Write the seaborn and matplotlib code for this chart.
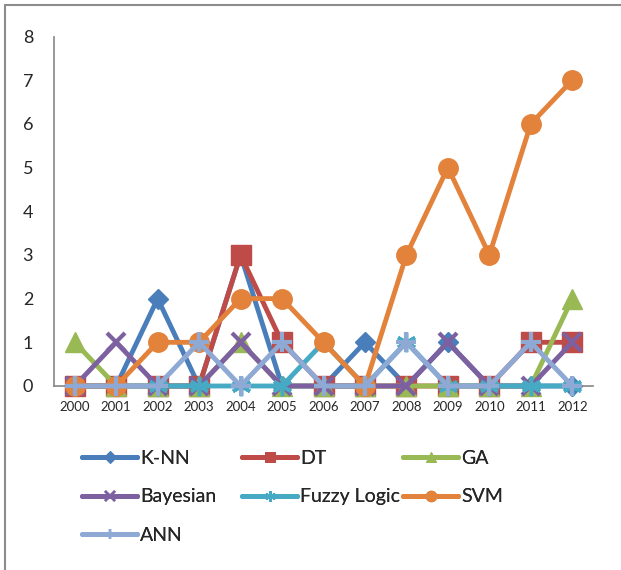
import matplotlib
matplotlib.use("Agg")
import matplotlib.pyplot as plt
import seaborn as sns
import pandas as pd
from matplotlib.lines import Line2D

years = [str(y) for y in range(2000, 2013)]
knn = [0, 0, 2, 0, 3, 0, 0, 1, 0, 1, 0, 0, 0]
dt = [0, 0, 0, 0, 3, 1, 0, 0, 0, 0, 0, 1, 1]
ga = [1, 0, 0, 0, 1, 0, 0, 0, 0, 0, 0, 0, 2]
bayesian = [0, 1, 0, 0, 1, 0, 0, 0, 0, 1, 0, 0, 1]
fuzzy = [0, 0, 0, 0, 0, 0, 1, 0, 1, 0, 0, 0, 0]
svm = [0, 0, 1, 1, 2, 2, 1, 0, 3, 5, 3, 6, 7]
ann = [0, 0, 0, 1, 0, 1, 0, 0, 1, 0, 0, 1, 0]
yticks = [0, 1, 2, 3, 4, 5, 6, 7, 8]

series = [
    ("K-NN", knn, "#4A7EBB", "D", 10.5, 1.0),
    ("DT", dt, "#BE4B48", "s", 14, 1.0),
    ("GA", ga, "#98B954", "^", 14, 1.0),
    ("Bayesian", bayesian, "#7D60A0", "x", 13, 3.0),
    ("Fuzzy Logic", fuzzy, "#46AAC5", (6, 2, 0), 14, 2.5),
    ("SVM", svm, "#E3823B", "o", 14, 1.0),
    ("ANN", ann, "#8EA9D4", "+", 14, 3.0),
]

sns.set_style("white")
plt.rcParams["font.family"] = ["Lato", "DejaVu Sans"]

fig = plt.figure(figsize=(6.21, 5.70), dpi=100)
ax = fig.add_axes([54 / 621, 1 - 386 / 570, (593 - 54) / 621, (386 - 36.5) / 570])

for name, vals, col, mk, ms, mew in series:
    df = pd.DataFrame({"year": years, "value": vals})
    sns.lineplot(data=df, x="year", y="value", ax=ax, color=col, lw=3.5,
                 marker=mk, markersize=ms, markeredgecolor=col,
                 markerfacecolor=col, markeredgewidth=mew, clip_on=False,
                 solid_capstyle="round", solid_joinstyle="round")

ax.set_xlim(-0.5, len(years) - 0.5)
ax.set_ylim(0, 8)
ax.set_yticks(yticks)
ax.set_xlabel("")
ax.set_ylabel("")
for s in ["top", "right"]:
    ax.spines[s].set_visible(False)
for s in ["left", "bottom"]:
    ax.spines[s].set_color("#868686")
    ax.spines[s].set_linewidth(1.2)
    ax.spines[s].set_zorder(0.5)
ax.tick_params(axis="y", length=0, pad=15, labelsize=13)
ax.tick_params(axis="x", length=0, pad=11, labelsize=9.5)


def handle(i):
    name, vals, col, mk, ms, mew = series[i]
    return Line2D([], [], color=col, lw=3.6, marker=mk,
                  markersize=ms * 0.55, markeredgecolor=col,
                  markerfacecolor=col, markeredgewidth=mew * 0.6,
                  solid_capstyle="round", label=name)


columns = [([0, 3, 6], 82), ([1, 4], 242), ([2, 5], 403)]
for idx, xpx in columns:
    leg = fig.legend(handles=[handle(i) for i in idx], ncol=1, loc="upper left",
                     bbox_to_anchor=(xpx / 621, 1 - 450 / 570), frameon=False,
                     fontsize=14, handlelength=2.85, handletextpad=0.15,
                     labelspacing=1.1, borderaxespad=0, borderpad=0)
    fig.add_artist(leg)

fig.add_artist(Line2D([5 / 621, 5 / 621], [0, 1 - 5 / 570], transform=fig.transFigure,
                      color="#8C8C8C", lw=1.5))
fig.add_artist(Line2D([5 / 621, 1], [1 - 5 / 570, 1 - 5 / 570], transform=fig.transFigure,
                      color="#8C8C8C", lw=1.5))

fig.savefig("out.png", dpi=100)
